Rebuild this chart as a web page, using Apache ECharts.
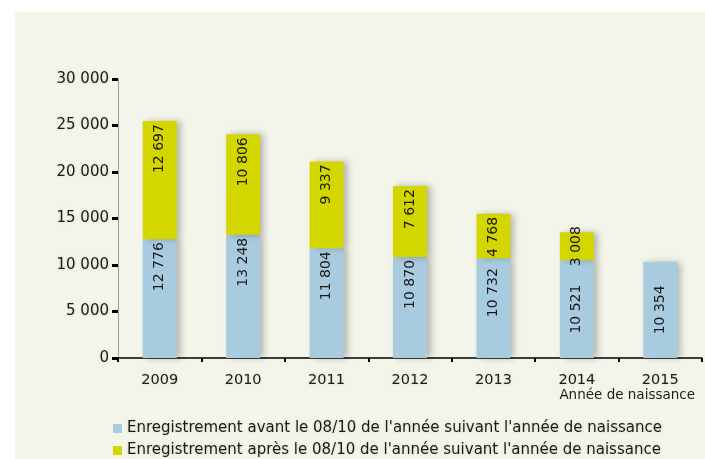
<!DOCTYPE html>
<html>
<head>
<meta charset="utf-8">
<script src="https://cdn.jsdelivr.net/npm/echarts@6/dist/echarts.min.js"></script>
<style>
  html, body { margin: 0; padding: 0; background: #ffffff; }
  .fond { position: absolute; left: 15px; top: 12px; width: 690px; height: 447px; background: #f4f5ea; }
  .tubiao { position: absolute; left: 0; top: 0; width: 705px; height: 459px; }
</style>
</head>
<body>
<div class="fond"></div>
<div id="chart" class="tubiao"></div>
<script>
// données
const annees = ['2009', '2010', '2011', '2012', '2013', '2014', '2015'];
const avant = [12776, 13248, 11804, 10870, 10732, 10521, 10354];
const apres = [12697, 10806, 9337, 7612, 4768, 3008, null];
const nomAvant = "Enregistrement avant le 08/10 de l'année suivant l'année de naissance";
const nomApres = "Enregistrement après le 08/10 de l'année suivant l'année de naissance";
const yMax = 30000;
const yPas = 5000;

const police = 'DejaVu Sans';
const fmt = function (v) {
  return String(v).replace(/\B(?=(\d{3})+(?!\d))/g, ' ');
};

// réglages des étiquettes pour les petits segments
const posAvant = { 4: { position: 'insideTop', distance: 10 }, 5: { position: 'inside' }, 6: { position: 'inside' } };
const posApres = { 5: { position: 'inside' } };

function construire(valeurs, pos) {
  return valeurs.map(function (v, i) {
    if (v == null) return '-';
    if (pos[i]) {
      const lab = { position: pos[i].position };
      if (pos[i].distance != null) lab.distance = pos[i].distance;
      if (pos[i].position === 'inside') { lab.align = 'center'; lab.verticalAlign = 'middle'; }
      return { value: v, label: lab };
    }
    return v;
  });
}

const ombre = {
  shadowColor: 'rgba(0,0,0,0.28)',
  shadowBlur: 7,
  shadowOffsetX: 4,
  shadowOffsetY: 0
};

const etiquette = {
  show: true,
  position: 'insideTop',
  distance: 3,
  rotate: 90,
  align: 'right',
  verticalAlign: 'middle',
  fontFamily: police,
  fontSize: 14,
  color: '#1a1a1a',
  formatter: function (p) { return fmt(p.value); }
};

let myChart = echarts.init(document.getElementById('chart'));

const option = {
  backgroundColor: 'transparent',
  animation: false,
  grid: {
    left: 118,
    right: 3,
    top: 79,
    bottom: 101
  },
  legend: {
    orient: 'vertical',
    left: 108,
    top: 416,
    height: 80,
    itemWidth: 9,
    itemHeight: 9,
    itemGap: 7,
    icon: 'rect',
    textStyle: {
      fontFamily: police,
      fontSize: 15,
      color: '#1a1a1a',
      textShadowColor: 'rgba(0,0,0,0.15)',
      textShadowBlur: 3
    },
    data: [nomAvant, nomApres]
  },
  graphic: [
    {
      type: 'text',
      right: 10,
      top: 388,
      style: {
        text: 'Année de naissance',
        font: '13.5px "DejaVu Sans"',
        fill: '#1a1a1a'
      }
    }
  ],
  xAxis: {
    type: 'category',
    data: annees,
    axisLine: { lineStyle: { color: '#000', width: 1.5 } },
    axisTick: { show: true, length: 4, lineStyle: { color: '#000', width: 2 } },
    axisLabel: {
      margin: 15,
      fontFamily: police,
      fontSize: 14.5,
      color: '#1a1a1a',
      textShadowColor: 'rgba(0,0,0,0.15)',
      textShadowBlur: 3
    }
  },
  yAxis: {
    type: 'value',
    min: 0,
    max: yMax,
    interval: yPas,
    splitLine: { show: false },
    axisLine: { show: true, lineStyle: { color: '#a0a0a0', width: 1 } },
    axisTick: { show: true, length: 6, lineStyle: { color: '#000', width: 3 } },
    axisLabel: {
      margin: 9,
      fontFamily: police,
      fontSize: 15,
      color: '#1a1a1a',
      textShadowColor: 'rgba(0,0,0,0.15)',
      textShadowBlur: 3,
      formatter: function (v) { return fmt(v); }
    }
  },
  series: [
    {
      name: nomAvant,
      type: 'bar',
      stack: 'total',
      barWidth: 34,
      itemStyle: Object.assign({ color: '#a9cbe0' }, ombre),
      label: etiquette,
      data: construire(avant, posAvant),
      z: 2
    },
    {
      name: nomApres,
      type: 'bar',
      stack: 'total',
      barWidth: 34,
      itemStyle: Object.assign({ color: '#d4d600' }, ombre),
      label: etiquette,
      data: construire(apres, posApres),
      z: 3
    }
  ]
};

myChart.setOption(option);
</script>
</body>
</html>
